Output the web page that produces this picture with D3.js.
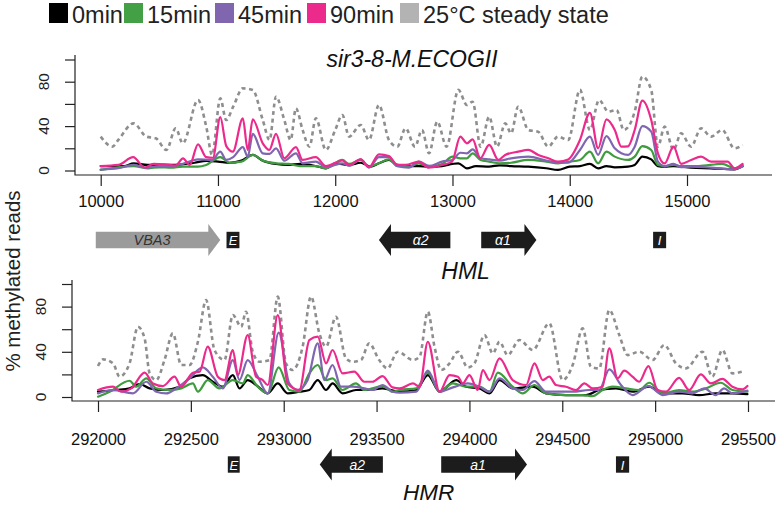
<!DOCTYPE html>
<html><head><meta charset="utf-8">
<script src="https://cdn.jsdelivr.net/npm/d3@7"></script>
<style>
html,body{margin:0;padding:0;background:#fff;}
svg{display:block;font-family:"Liberation Sans",Arial,Helvetica,sans-serif;}
</style></head>
<body>
<svg id="chart" width="776" height="506"></svg>
<script>
// ---------------- DATA ----------------
const seriesNames = ["0min", "15min", "45min", "90min", "25°C steady state"];
const hmlTicks = [10000, 11000, 12000, 13000, 14000, 15000];
const hmrTicks = [292000, 292500, 293000, 293500, 294000, 294500, 295000, 295500];
const yTicks = [0, 20, 40, 60, 80, 100];
const yTickLabels = [0, 40, 80];

// HML (top) series: [position, % methylated]
const hml0min = [[10000,4],[10200,4],[10280,6.5],[10400,5],[10600,5],[10800,7],[10900,8.6],[11000,8],[11100,7],[11200,8.9],[11297,14],[11382,8.9],[11495,5.9],[11600,5],[11700,5.9],[11835,4],[11920,2],[12000,6.5],[12118,5],[12217,7],[12300,3.5],[12373,6.5],[12458,9.5],[12529,5],[12628,4],[12713,4],[12800,3.5],[12911,4],[13000,5.9],[13050,6.5],[13123,2],[13200,4],[13313,3.5],[13400,4.7],[13500,4],[13647,3.5],[13800,2],[13900,0.5],[14000,3.5],[14087,4],[14172,6],[14242,2],[14313,4],[14384,2.9],[14497,3.5],[14554,5],[14619,12.5],[14695,10],[14752,4],[14809,3.5],[14885,4],[15035,2.6],[15200,2],[15404,1.1],[15474,4]];
const hml15min = [[10000,0.5],[10280,4],[10400,2],[10500,2.9],[10600,2.6],[10700,3.5],[10830,3.5],[10900,5],[11020,12],[11100,7],[11200,8],[11297,14],[11382,8.9],[11495,6.5],[11600,5.9],[11700,4],[11835,4],[11920,2],[12061,9.5],[12118,5.9],[12217,9.5],[12288,3.5],[12373,6.5],[12458,10],[12529,4],[12628,3.5],[12713,6.5],[12800,3.5],[12911,5.9],[13000,12.5],[13067,11],[13123,11],[13172,15.5],[13240,9.5],[13313,8],[13400,6.5],[13500,7],[13647,9.5],[13800,8],[13900,6.5],[14000,8],[14087,9.5],[14172,17],[14242,6.5],[14313,17],[14384,12.5],[14497,9.5],[14554,12.5],[14619,22],[14695,18.5],[14752,5],[14809,4],[14885,5],[14950,4],[15100,4],[15300,6],[15404,2],[15474,5]];
const hml45min = [[10000,0.8],[10150,2],[10280,5],[10380,2.5],[10500,4],[10600,4],[10700,6],[10830,10],[10950,9.5],[11020,17],[11070,9.5],[11130,12],[11212,21],[11254,12.5],[11297,33],[11382,15.5],[11440,15],[11495,20],[11566,8.9],[11665,15.5],[11722,6.5],[11835,8],[11920,2.9],[12061,6.5],[12118,4.1],[12217,10],[12288,2.6],[12373,12],[12458,12],[12529,4],[12628,2.6],[12713,8],[12800,4.1],[12911,8],[13000,9.5],[13067,16],[13123,15.5],[13172,19],[13240,11],[13313,10],[13400,8.9],[13500,11],[13647,12.5],[13800,8.9],[13900,7],[13987,7],[14087,18.5],[14172,30.5],[14242,14],[14313,31],[14384,20],[14440,15.5],[14497,14],[14554,21.5],[14619,40],[14695,35],[14752,8],[14809,4],[14885,6],[14950,3],[15035,3.5],[15200,2.6],[15404,1.1],[15474,3.5]];
const hml90min = [[10000,4],[10150,5],[10277,12],[10376,2.5],[10450,6],[10550,5.5],[10640,4.5],[10702,11],[10759,5],[10830,23.6],[10900,12],[10957,11.5],[11020,48],[11071,22],[11127,17],[11212,47],[11254,18.5],[11297,46],[11382,24.5],[11438,18.5],[11495,33],[11566,11],[11665,21],[11722,9.5],[11835,12],[11920,4],[12061,9],[12118,5],[12217,10],[12288,3],[12373,14.6],[12458,13],[12529,5],[12600,5],[12713,8],[12798,2.5],[12911,5],[12996,8],[13067,30.5],[13123,24.5],[13172,28],[13237,11],[13313,23],[13392,9.5],[13449,14],[13562,17],[13647,18.5],[13732,14],[13817,11],[13902,8],[13987,10],[14087,27.5],[14172,52],[14242,20],[14313,46],[14384,36.5],[14440,21.5],[14497,21.8],[14554,36.5],[14619,63],[14695,45.5],[14752,15.5],[14809,6.4],[14885,21.5],[14950,6],[15035,9.5],[15120,12.5],[15205,8],[15347,8],[15404,2],[15474,6]];
const hml25C = [[10000,30.5],[10100,21.5],[10150,27.5],[10280,42.5],[10390,30.5],[10470,29],[10560,18.5],[10640,38],[10700,24.5],[10830,63.5],[10900,39.5],[10950,14],[11020,65],[11070,45.5],[11130,57.5],[11212,74],[11297,72.6],[11382,45.5],[11440,27.5],[11495,66.5],[11566,45.5],[11620,27.5],[11665,56],[11722,36.5],[11780,21.5],[11835,47],[11920,18.5],[12000,36.5],[12061,50],[12118,30.5],[12217,41],[12288,27.5],[12373,59],[12458,27.5],[12529,21.5],[12600,38],[12680,21.5],[12740,36.5],[12800,15.5],[12870,44],[12950,21.5],[13050,72.6],[13123,59],[13172,62],[13240,21.5],[13313,48.5],[13380,21.5],[13450,42.5],[13500,33.5],[13560,57.5],[13647,36.5],[13730,35],[13817,21.5],[13900,30.5],[13987,27.5],[14087,72.6],[14172,36.5],[14250,63.5],[14330,53],[14400,54.5],[14460,36.5],[14554,53],[14619,84.6],[14695,72.6],[14752,21.5],[14809,39.5],[14885,18.5],[14950,33.5],[15035,21.5],[15120,38],[15205,30.5],[15300,36.5],[15404,20],[15474,23]];

// HMR (bottom) series
const hmr0min = [[292000,4.7],[292099,6.2],[292170,7.6],[292224,11.5],[292278,7.6],[292349,6.2],[292439,9.1],[292493,16.5],[292564,19.4],[292618,13.5],[292672,9.1],[292726,19.4],[292762,7.6],[292806,15],[292851,10.6],[292914,3.2],[292968,12],[293021,3.2],[293084,4.7],[293138,6.2],[293183,15],[293228,6.2],[293263,12],[293317,3.2],[293389,6.2],[293460,6.2],[293532,7.6],[293624,4.7],[293714,6.2],[293776,19.4],[293839,4.7],[293929,15],[293982,9.1],[294054,7.6],[294108,3.2],[294162,15],[294233,7.6],[294341,9.1],[294412,3.2],[294520,1.7],[294628,1.7],[294699,6.2],[294789,7.6],[294878,4.7],[294968,9.1],[295040,3.2],[295147,3.2],[295237,1.7],[295326,3.2],[295416,3.2],[295497,2.6]];
const hmr15min = [[292000,0.3],[292063,4.7],[292170,14.4],[292206,9.1],[292260,16.5],[292314,7.6],[292385,6.2],[292448,7.6],[292511,12],[292538,4.7],[292591,15],[292654,7.6],[292726,15],[292780,12],[292806,19.4],[292860,9.1],[292914,3.2],[292973,26.2],[293030,6.2],[293084,4.7],[293138,20.9],[293183,28.3],[293228,15],[293263,16.5],[293317,6.2],[293389,12],[293434,6.2],[293532,9.7],[293586,4.7],[293624,6.2],[293714,7.6],[293776,21.5],[293839,4.7],[293911,12],[293982,9.1],[294054,9.1],[294108,4.7],[294153,21.5],[294233,9.1],[294287,3.2],[294350,10.6],[294412,3.2],[294520,1.7],[294610,1.7],[294663,0.8],[294717,6.2],[294771,9.1],[294843,7.6],[294914,6.2],[294968,12.6],[295040,3.2],[295129,6.2],[295201,4.7],[295273,7.6],[295353,12.6],[295416,6.2],[295497,4.7]];
const hmr45min = [[292000,3.2],[292081,6.2],[292188,3.2],[292260,13.5],[292314,4.7],[292367,3.2],[292421,7.6],[292493,16.5],[292564,26.2],[292618,18],[292672,7.6],[292726,32.7],[292762,15],[292806,32.7],[292860,18],[292914,3.2],[292973,56.9],[293030,12],[293075,6.2],[293129,15],[293183,47.5],[293219,15],[293263,28.3],[293308,9.1],[293371,9.1],[293434,7.6],[293478,6.2],[293532,10.6],[293586,4.7],[293624,3.8],[293714,4.7],[293776,23.3],[293839,4.7],[293911,8.5],[293991,12],[294054,9.1],[294108,4.7],[294162,16.5],[294233,7.6],[294287,6.2],[294350,14],[294412,4.7],[294484,4.7],[294556,4.7],[294645,6.2],[294699,6.2],[294753,24.4],[294816,10.6],[294878,1.7],[294964,9.7],[295040,1.7],[295129,4.7],[295201,3.2],[295264,7.6],[295326,1.7],[295371,7.6],[295416,3.2],[295497,5.6]];
const hmr90min = [[292000,6.2],[292081,9.1],[292125,4.7],[292179,7.6],[292251,21.5],[292296,12],[292349,9.7],[292412,18],[292448,9.1],[292511,21.5],[292547,22.4],[292591,44.5],[292645,18],[292681,15],[292726,41.6],[292753,19.4],[292806,54.8],[292851,18],[292887,15],[292914,10.6],[292968,72.5],[293021,12],[293084,6.2],[293138,50.4],[293183,53.4],[293228,29.8],[293263,41.6],[293317,20.9],[293380,22.4],[293434,13.5],[293478,13.5],[293532,18.5],[293586,8.5],[293624,7.6],[293696,12],[293732,9.1],[293776,48.9],[293839,4.7],[293893,19.4],[293938,18],[293964,12],[294000,19.4],[294045,6.2],[294072,23.9],[294108,15],[294162,34.2],[294233,15],[294305,10.6],[294350,29.8],[294395,15],[294430,18],[294466,10.6],[294520,9.1],[294574,6.2],[294619,12],[294663,7.6],[294717,9.1],[294753,43],[294798,16.5],[294834,23.3],[294878,18],[294914,13.5],[294964,27.4],[295013,6.2],[295058,4.7],[295129,17],[295183,6.2],[295246,20],[295300,12],[295362,16],[295416,9.1],[295470,6.7],[295497,9.7]];
const hmr25C = [[292000,27.4],[292027,33.3],[292081,29.8],[292116,18],[292170,29.8],[292215,62.2],[292251,51.9],[292278,20.9],[292314,15],[292358,32.7],[292403,56.3],[292448,28.3],[292493,28.3],[292538,48.9],[292582,85.8],[292627,41.6],[292681,32.7],[292726,72.5],[292771,62.2],[292797,75.5],[292833,40.1],[292869,31.2],[292923,32.7],[292968,88.8],[293012,29.8],[293048,23.9],[293102,44.5],[293147,88.8],[293192,56.3],[293228,44.5],[293281,71],[293335,34.2],[293371,31.2],[293416,32.7],[293460,47.5],[293514,32.7],[293559,25.3],[293613,40.1],[293696,32.7],[293732,35.7],[293776,75.5],[293812,44.5],[293848,23.9],[293893,29.8],[293938,40.1],[293991,26.2],[294027,29.8],[294081,54.8],[294126,38.6],[294162,48.9],[294206,37.1],[294269,50.4],[294341,41.6],[294430,65.2],[294502,15],[294556,28.3],[294610,60.7],[294654,26.8],[294699,25.3],[294753,77],[294807,54.8],[294852,37.1],[294914,40.1],[294986,32.7],[295049,46],[295112,29.8],[295165,25.3],[295255,40.1],[295308,18],[295362,41.6],[295416,20.9],[295470,22.4]];

// Genomic features [name, start, end, kind]  kind: "+" / "-" arrow, "box"
const hmlFeatures = [["VBA3", 9958, 11020, "+"], ["E", 11073, 11183, "box"], ["α2", 12373, 12982, "-"], ["α1", 13245, 13716, "+"], ["I", 14711, 14822, "box"]];
const hmrFeatures = [["E", 292699, 292763, "box"], ["a2", 293194, 293534, "-"], ["a1", 293848, 294310, "+"], ["I", 294789, 294860, "box"]];

// ---------------- STYLE ----------------
const lineColors = ["#000000", "#3e9b3e", "#7f66b0", "#ec2a8c", "#8e8e8e"];
const legendColors = ["#000000", "#43a045", "#7f66ae", "#ec2a8c", "#b3b3b3"];
const axisColor = "#222";
const FONT = "'Liberation Sans', Arial, Helvetica, sans-serif";

const svg = d3.select("#chart");

// Legend
const legendX = [49, 124, 215, 307, 400];
const lg = svg.append("g");
seriesNames.forEach((n, i) => {
  lg.append("rect").attr("x", legendX[i]).attr("y", 3).attr("width", 19).attr("height", 20).attr("fill", legendColors[i]);
  lg.append("text").attr("x", legendX[i] + 23).attr("y", 22.5).attr("font-size", 23.5)
    .attr("fill", "#222").text(n);
});

// Y axis title
svg.append("text").attr("transform", "translate(20,281) rotate(-90)")
  .attr("text-anchor", "middle").attr("font-size", 20.5).attr("fill", "#222").text("% methylated reads");

function panel(cfg) {
  const x = d3.scaleLinear().domain(cfg.xdom).range(cfg.xrng);
  const y = d3.scaleLinear().domain([0, 100]).range(cfg.yrng);
  const g = svg.append("g");

  // L-shaped frame
  g.append("path").attr("d", `M${cfg.axisX},${cfg.topY}V${cfg.axisY}H${cfg.rightX}`)
    .attr("fill", "none").attr("stroke", axisColor).attr("stroke-width", 1.2);

  // x axis ticks
  const xa = g.append("g").attr("transform", `translate(0,${cfg.axisY})`)
    .call(d3.axisBottom(x).tickValues(cfg.ticks).tickSize(11).tickSizeOuter(0).tickFormat(d3.format("d")));
  xa.select(".domain").remove();
  xa.selectAll("line").attr("stroke", axisColor).attr("stroke-width", 1.2);
  xa.selectAll("text").attr("font-size", 16.5).attr("font-family", FONT).attr("fill", "#111").attr("dy", 0).attr("y", cfg.xLabelDY);

  // y axis ticks
  const ya = g.append("g").attr("transform", `translate(${cfg.axisX},0)`)
    .call(d3.axisLeft(y).tickValues(yTicks).tickSize(10).tickSizeOuter(0).tickFormat(""));
  ya.select(".domain").remove();
  ya.selectAll("line").attr("stroke", axisColor).attr("stroke-width", 1.2);
  yTickLabels.forEach(v => {
    g.append("text").attr("transform", `translate(${cfg.axisX - 26},${y(v)}) rotate(-90)`)
      .attr("text-anchor", "middle").attr("font-size", 15.5).attr("fill", "#222").text(v);
  });

  // series
  const line = d3.line().x(d => x(d[0])).y(d => y(d[1])).curve(d3.curveMonotoneX);
  const order = [4, 0, 1, 2, 3];
  order.forEach(i => {
    const p = g.append("path").datum(cfg.series[i]).attr("d", line)
      .attr("fill", "none").attr("stroke", lineColors[i]).attr("stroke-linejoin", "round");
    if (i === 4) p.attr("stroke-width", 2.6).attr("stroke-dasharray", "4,3.5");
    else p.attr("stroke-width", 2.2).attr("stroke-linecap", "round");
  });

  // features
  const cy = cfg.featY, bh = 8.2, hh = 16, hl = 12;
  cfg.features.forEach(f => {
    const [name, s, e, kind] = f;
    const x0 = x(s), x1 = x(e);
    const fill = name === "VBA3" ? "#9b9b9b" : "#1c1c1c";
    if (kind === "box") {
      g.append("rect").attr("x", x0).attr("y", cy - 8.2).attr("width", x1 - x0).attr("height", 16.4).attr("fill", fill);
      g.append("text").attr("x", (x0 + x1) / 2).attr("y", cy + 5).attr("text-anchor", "middle")
        .attr("font-size", 13).attr("font-style", "italic").attr("fill", "#fff").text(name);
    } else {
      let d, cx;
      if (kind === "+") {
        const hb = x1 - hl;
        d = `M${x0},${cy - bh}H${hb}V${cy - hh}L${x1},${cy}L${hb},${cy + hh}V${cy + bh}H${x0}Z`;
        cx = (x0 + hb) / 2;
      } else {
        const hb = x0 + hl;
        d = `M${x1},${cy - bh}H${hb}V${cy - hh}L${x0},${cy}L${hb},${cy + hh}V${cy + bh}H${x1}Z`;
        cx = (hb + x1) / 2;
      }
      g.append("path").attr("d", d).attr("fill", fill);
      g.append("text").attr("x", cx).attr("y", cy + 5).attr("text-anchor", "middle")
        .attr("font-size", name === "VBA3" ? 14.5 : 14).attr("font-style", "italic")
        .attr("fill", name === "VBA3" ? "#333" : "#fff").text(name);
    }
  });

  // locus label
  g.append("text").attr("x", x(cfg.locus[1])).attr("y", cfg.locus[2]).attr("text-anchor", "middle")
    .attr("font-size", cfg.locus[3]).attr("font-style", "italic").attr("fill", "#111").text(cfg.locus[0]);
  return {x, y};
}

panel({
  xdom: [10000, 15000], xrng: [100.7, 687], yrng: [170.5, 59.5],
  axisX: 75, axisY: 175, topY: 55, rightX: 772, xLabelDY: 32,
  ticks: hmlTicks, series: [hml0min, hml15min, hml45min, hml90min, hml25C],
  features: hmlFeatures, featY: 240, locus: ["HML", 13112, 279, 23]
});
panel({
  xdom: [292000, 295500], xrng: [98, 748], yrng: [397, 284],
  axisX: 72, axisY: 401, topY: 280, rightX: 775, xLabelDY: 44,
  ticks: hmrTicks, series: [hmr0min, hmr15min, hmr45min, hmr90min, hmr25C],
  features: hmrFeatures, featY: 464.5, locus: ["HMR", 293780, 500, 22.5]
});

// Title
svg.append("text").attr("x", 412).attr("y", 67).attr("text-anchor", "middle")
  .attr("font-size", 23).attr("font-style", "italic").attr("fill", "#111").text("sir3-8-M.ECOGII");
</script>
</body></html>
